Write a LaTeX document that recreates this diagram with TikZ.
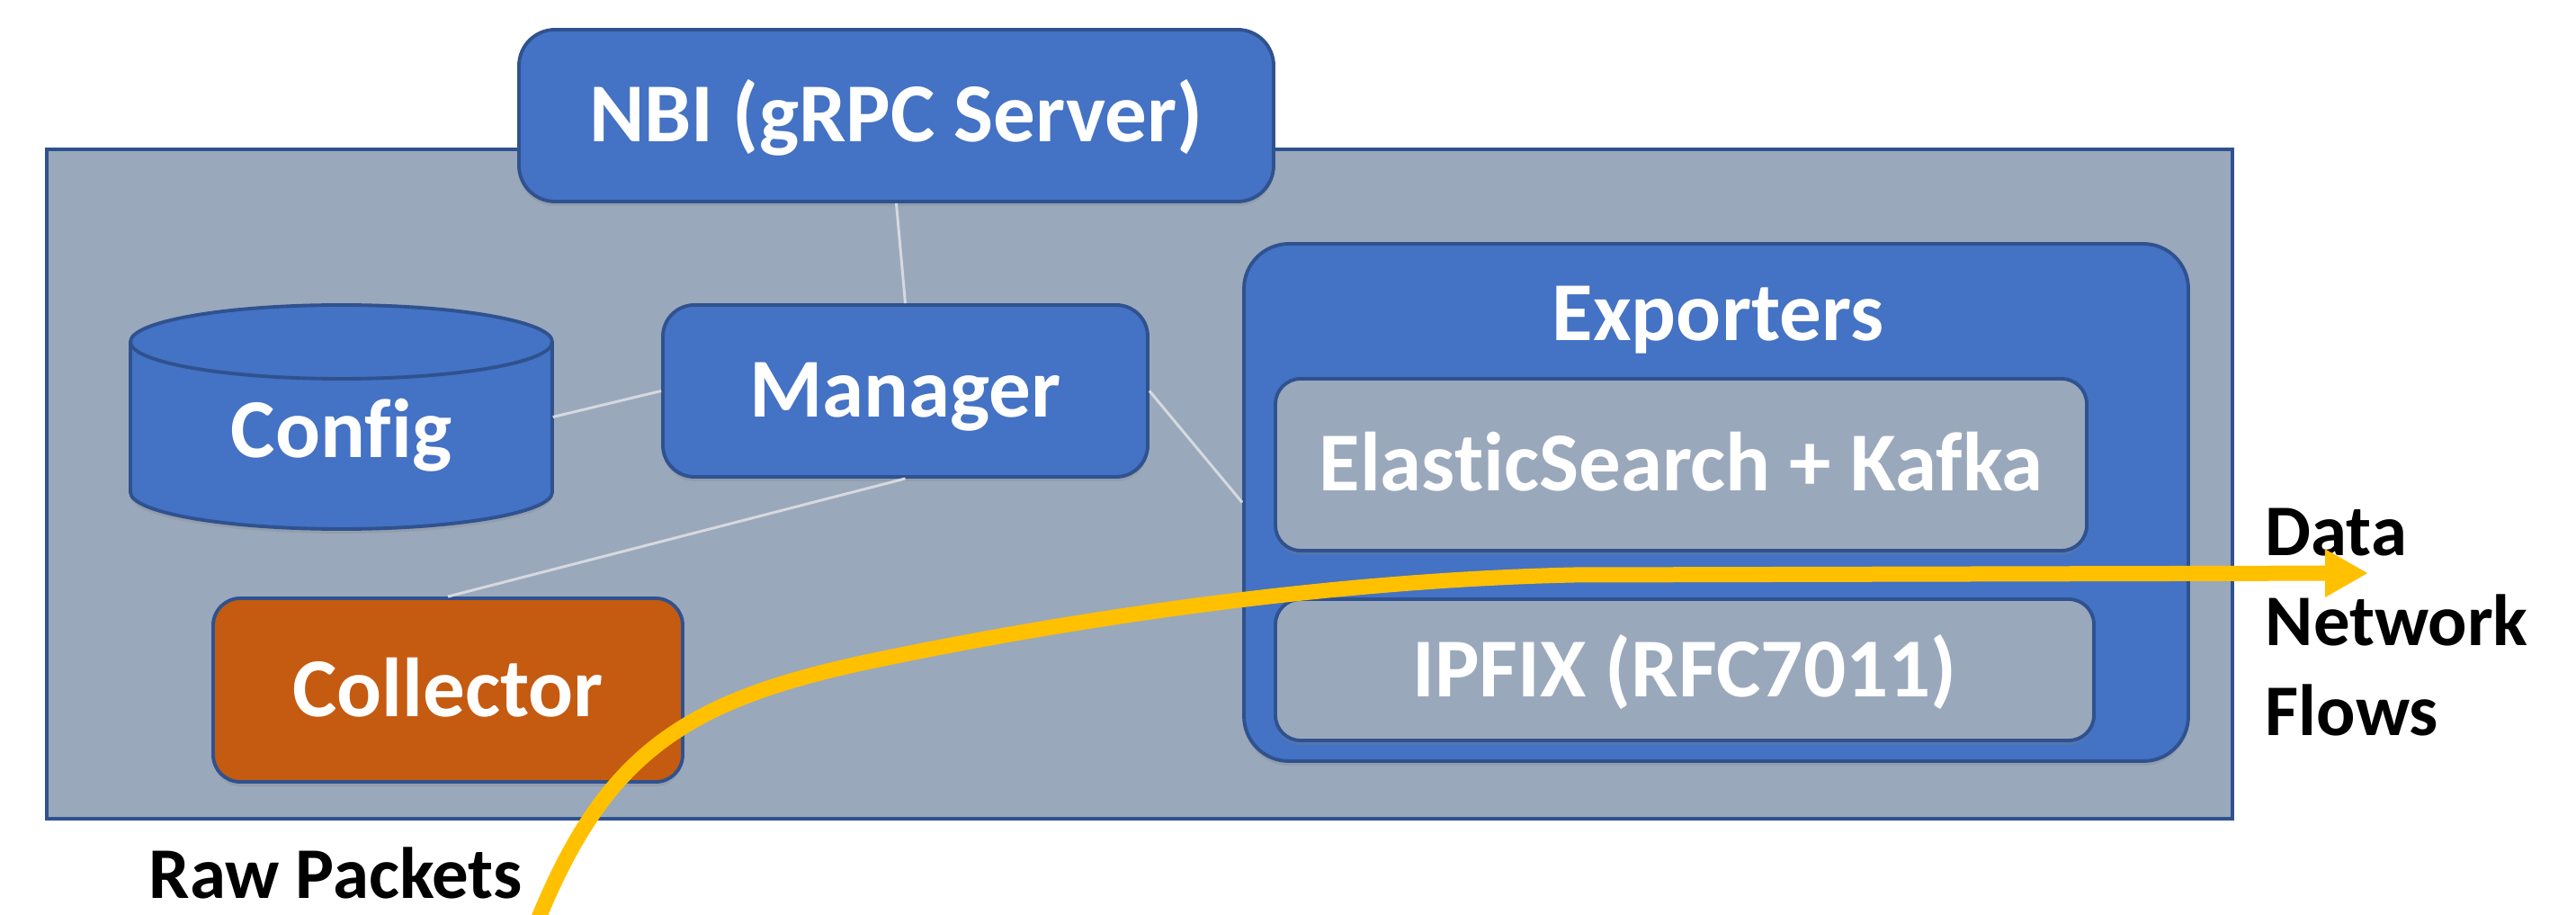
\documentclass[tikz,border=0pt]{standalone}
\usepackage{fontspec}
\setmainfont{Carlito}[Ligatures=NoCommon]
\usepackage{tikz}
\usepackage{xcolor}
\definecolor{boxBlue}{HTML}{4472C4}
\definecolor{boxBorder}{HTML}{2F528F}
\definecolor{hostGray}{HTML}{9AA8BC}
\definecolor{collectorOrange}{HTML}{C55A11}
\definecolor{flowYellow}{HTML}{FFC000}
\definecolor{linkGray}{HTML}{D6D9DE}
\usetikzlibrary{arrows.meta,shadows}

\newcommand{\blockfont}{\fontsize{26.5}{30}\selectfont\bfseries}
\newcommand{\sidefont}{\fontsize{23}{28.45}\selectfont\bfseries}

\tikzset{
  hostbox/.style={draw=boxBorder, line width=1.1pt, fill=hostGray, inner sep=0pt},
  blockbox/.style={draw=boxBorder, line width=1.1pt, fill=boxBlue, rounded corners=0.4cm,
    text=white, font=\blockfont, text height=0.59cm, text depth=0cm, inner sep=0pt,
    drop shadow={shadow xshift=0cm, shadow yshift=-0.05cm, opacity=0.25}},
  subbox/.style={blockbox, fill=hostGray, rounded corners=0.28cm},
  titletext/.style={text=white, font=\blockfont, text height=0.59cm, text depth=0cm, inner sep=0pt},
  sidelabel/.style={font=\sidefont, text=black, inner sep=0pt},
  link/.style={draw=linkGray, line width=0.85pt},
  flowarrow/.style={draw=flowYellow, line width=0.17cm, -{Triangle[length=0.48cm, width=0.50cm]}}
}

\begin{document}
\begin{tikzpicture}
  \useasboundingbox (0cm,0cm) rectangle (28.64cm,-10.17cm);

  % host area
  \node[hostbox, minimum width=24.30cm, minimum height=7.44cm] (host) at (12.67cm,-5.38cm) {};

  % config store (cylinder)
  \filldraw[fill=boxBlue, draw=boxBorder, line width=1.1pt,
    drop shadow={shadow xshift=0cm, shadow yshift=-0.05cm, opacity=0.25}]
    (1.45cm,-3.80cm) -- (1.45cm,-5.47cm)
    arc[start angle=180, end angle=360, x radius=2.345cm, y radius=0.41cm]
    -- (6.14cm,-3.80cm)
    arc[start angle=0, end angle=180, x radius=2.345cm, y radius=0.41cm] -- cycle;
  \draw[draw=boxBorder, line width=1.1pt] (1.45cm,-3.80cm)
    arc[start angle=180, end angle=360, x radius=2.345cm, y radius=0.41cm];
  \node[titletext, text height=0.91cm, minimum width=4.69cm, minimum height=2.49cm] (config) at (3.795cm,-4.635cm) {Config};

  \node[blockbox, minimum width=8.39cm, minimum height=1.91cm] (nbi) at (9.965cm,-1.285cm) {NBI (gRPC Server)};
  \node[blockbox, minimum width=5.39cm, minimum height=1.91cm, rounded corners=0.35cm] (manager) at (10.065cm,-4.345cm) {Manager};
  \node[blockbox, fill=collectorOrange, minimum width=5.22cm, minimum height=2.04cm, rounded corners=0.3cm] (collector) at (4.98cm,-7.67cm) {Collector};

  % exporters group
  \node[blockbox, minimum width=10.50cm, minimum height=5.75cm, rounded corners=0.5cm] (exporters) at (19.08cm,-5.585cm) {};
  \node[titletext] (exptitle) at (19.10cm,-3.49cm) {Exporters};
  \node[subbox, minimum width=9.02cm, minimum height=1.91cm] (elastic) at (18.69cm,-5.165cm) {ElasticSearch + Kafka};
  \node[subbox, minimum width=9.10cm, minimum height=1.57cm] (ipfix) at (18.73cm,-7.445cm) {IPFIX (RFC7011)};

  % links to the manager
  \draw[link] (nbi.south) -- (manager.north);
  \draw[link] (config.east) -- (manager.west);
  \draw[link] (manager.south) -- (collector.north);
  \draw[link] (manager.east) -- (exporters.west);

  % outside labels
  \node[sidelabel, anchor=base west] (rawlabel) at (1.65cm,-9.98cm) {Raw Packets};
  \node[sidelabel, align=left, anchor=north west] (flowlabel) at (25.18cm,-5.64cm) {Data\\Network\\Flows};

  % packet flow
  \coordinate (rawin) at (5.97cm,-10.25cm);
  \coordinate (flowout) at (26.33cm,-6.37cm);
  \draw[flowarrow] (rawin) .. controls (6.75cm,-8.32cm) and (7.66cm,-7.76cm) .. (9.82cm,-7.32cm)
    .. controls (12.0cm,-6.87cm) and (14.8cm,-6.45cm) .. (17.5cm,-6.39cm) -- (flowout);
\end{tikzpicture}
\end{document}
